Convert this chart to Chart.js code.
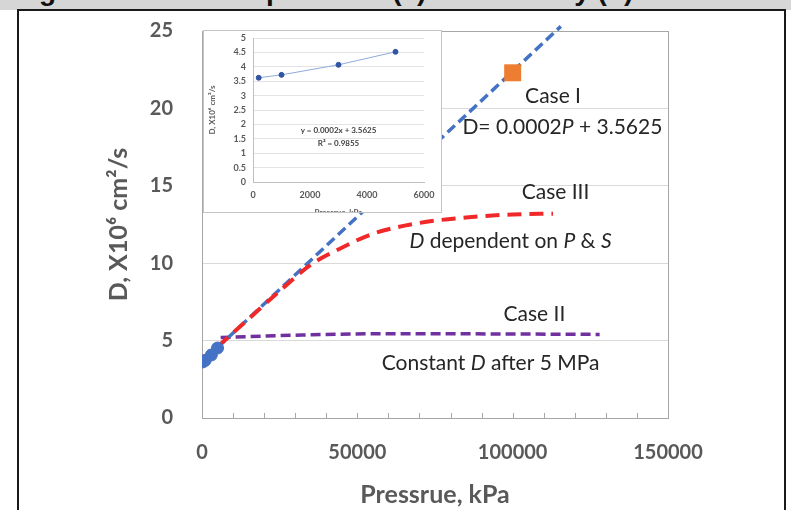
<!DOCTYPE html>
<html>
<head>
<meta charset="utf-8">
<script src="https://cdn.jsdelivr.net/npm/chart.js@4/dist/chart.umd.min.js"></script>
<style>
body { margin: 0; background: #fff; width: 791px; height: 510px; overflow: hidden; position: relative; }
#hdr { position: absolute; left: 0; top: 0; width: 791px; height: 10px; background: #d6d6d6; overflow: hidden; }
#hdr span { position: absolute; left: 14px; top: -23px; font: bold 28px "Liberation Sans"; line-height: 28px; white-space: nowrap; color: #111; }
#frame { position: absolute; left: 17px; top: 9px; width: 769px; height: 520px; border: 2px solid #1a1a1a; border-bottom: none; box-sizing: border-box; }
#main { position: absolute; left: 0; top: 0; }
#inset { position: absolute; left: 203px; top: 30px; width: 239px; height: 183px; border: 1px solid #c4c4c4; background: #fff; overflow: hidden; box-sizing: border-box; }
#inset canvas { position: absolute; left: 0; top: 0; }
</style>
</head>
<body>
<div id="hdr"><span>Figure 4: D versus pressure (a) and density (b)</span></div>
<canvas id="main" width="791" height="510"></canvas>
<div id="inset"><canvas id="small" width="237" height="192"></canvas></div>
<div id="frame"></div>
<script>
// measured points (kPa, D x10^6 cm2/s)
const measuredP = [200, 1000, 3000, 5000];
const measuredD = [3.62, 3.72, 4.07, 4.52];

// Case I - linear extrapolation
const caseIP = [5000, 115500];
const caseID = [4.55, 25.3];

// Case II - constant after 5 MPa
const caseIIP = [6000, 30000, 60000, 128000];
const caseIID = [5.2, 5.35, 5.45, 5.4];

// Case III - depends on P & S
const caseIIIP = [5000, 15000, 25000, 35000, 45000, 55000, 70000, 85000, 100000, 113000];
const caseIIID = [4.6, 6.4, 8.2, 9.9, 11.0, 11.9, 12.6, 12.95, 13.15, 13.2];

// highlighted point
const markP = [100000];
const markD = [22.3];

const xTicks = [0, 50000, 100000, 150000];
const yTicks = [0, 5, 10, 15, 20, 25];
const insetXTicks = [0, 2000, 4000, 6000];
const insetYTicks = [0, 0.5, 1, 1.5, 2, 2.5, 3, 3.5, 4, 4.5, 5];

const pts = (xs, ys) => xs.map((x, i) => ({x: x, y: ys[i]}));
const grey = '#595959';

const notes = [
  {p: 113000, d: 20.8, parts: [['Case I']]},
  {p: 116000, d: 18.8, parts: [['D= 0.0002'], ['P', 1], [' + 3.5625']]},
  {p: 113800, d: 14.6, parts: [['Case III']]},
  {p: 99300, d: 11.4, parts: [['D', 1], [' dependent on '], ['P', 1], [' & '], ['S', 1]]},
  {p: 107000, d: 6.7, parts: [['Case II']]},
  {p: 92900, d: 3.56, parts: [['Constant '], ['D', 1], [' after 5 MPa']]}
];

function drawRich(ctx, parts, cx, cy) {
  const fontOf = it => (it ? 'italic ' : '') + '21px Lato';
  let total = 0;
  parts.forEach(p => { ctx.font = fontOf(p[1]); total += ctx.measureText(p[0]).width; });
  let x = cx - total / 2;
  ctx.textAlign = 'left';
  ctx.textBaseline = 'middle';
  ctx.fillStyle = '#262626';
  parts.forEach(p => {
    ctx.font = fontOf(p[1]);
    ctx.fillText(p[0], x, cy);
    x += ctx.measureText(p[0]).width;
  });
}

const decor = {
  id: 'decor',
  beforeDatasetsDraw(chart) {
    const {ctx, chartArea: a, scales: {x}} = chart;
    ctx.save();
    ctx.strokeStyle = '#a6a6a6';
    ctx.lineWidth = 1;
    ctx.strokeRect(Math.round(a.left) + 0.5, Math.round(a.top) + 0.5, Math.round(a.right - a.left), Math.round(a.bottom - a.top));
    ctx.beginPath();
    for (let v = 10000; v < x.max; v += 10000) {
      const px = Math.round(x.getPixelForValue(v)) + 0.5;
      ctx.moveTo(px, a.bottom);
      ctx.lineTo(px, a.bottom - 5);
    }
    ctx.stroke();
    ctx.restore();
  },
  afterDatasetsDraw(chart) {
    const {ctx, scales: {x, y}} = chart;
    ctx.save();
    notes.forEach(n => drawRich(ctx, n.parts, x.getPixelForValue(n.p), y.getPixelForValue(n.d)));
    ctx.restore();
  }
};

new Chart(document.getElementById('main'), {
  type: 'scatter',
  data: {
    datasets: [
      {data: pts(markP, markD), pointStyle: 'rect', pointRadius: 12, backgroundColor: '#ed7d31', borderColor: '#ed7d31', borderWidth: 0, order: 0},
      {data: pts(measuredP, measuredD), pointRadius: 6, backgroundColor: '#4472c4', borderColor: '#4472c4', order: 1},
      {data: pts(caseIIIP, caseIIID), showLine: true, pointRadius: 0, borderColor: '#f0282a', borderWidth: 4, borderDash: [14, 8], cubicInterpolationMode: 'monotone', order: 2},
      {data: pts(caseIP, caseID), showLine: true, pointRadius: 0, borderColor: '#4472c4', borderWidth: 3.5, borderDash: [10, 5], clip: 6, order: 3},
      {data: pts(caseIIP, caseIID), showLine: true, pointRadius: 0, borderColor: '#7030a0', borderWidth: 3.5, borderDash: [10, 5], cubicInterpolationMode: 'monotone', order: 4}
    ]
  },
  options: {
    responsive: false,
    animation: false,
    layout: {padding: {left: 104, right: 123, top: 31, bottom: 0}},
    plugins: {legend: {display: false}, tooltip: {enabled: false}},
    scales: {
      x: {
        min: 0, max: 150000,
        afterBuildTicks: s => { s.ticks = xTicks.map(v => ({value: v})); },
        afterFit: s => { s.height = 92; },
        grid: {display: false, drawTicks: false},
        border: {display: false},
        ticks: {padding: 23, color: grey, font: {family: 'Lato', size: 20, weight: 'bold'}, callback: v => String(v), maxRotation: 0, autoSkip: false},
        title: {display: true, text: 'Pressrue, kPa', color: grey, padding: 0, font: {family: 'Lato', size: 25, weight: 'bold'}}
      },
      y: {
        min: 0, max: 25,
        afterBuildTicks: s => { s.ticks = yTicks.map(v => ({value: v})); },
        afterFit: s => { s.width = 98; },
        // tick length used as the gap between labels and plot, ticks themselves hidden
        grid: {drawTicks: true, tickLength: 29, tickColor: 'rgba(0,0,0,0)', color: c => (c.tick.value === 0 || c.tick.value === 25) ? 'rgba(0,0,0,0)' : '#d9d9d9'},
        border: {display: false},
        ticks: {padding: 0, color: grey, font: {family: 'Lato', size: 20, weight: 'bold'}, autoSkip: false},
        title: {display: true, text: 'D, X10⁶ cm²/s', color: grey, padding: 0, font: {family: 'Lato', size: 25, weight: 'bold'}}
      }
    }
  },
  plugins: [decor]
});

// inset chart: measured data with linear trend
new Chart(document.getElementById('small'), {
  type: 'scatter',
  data: {
    datasets: [
      {data: pts(measuredP, measuredD), showLine: true, pointRadius: 2.5, backgroundColor: '#2f55a4', borderColor: '#8faadc', borderWidth: 1, pointBorderColor: '#2f55a4'}
    ]
  },
  options: {
    responsive: false,
    animation: false,
    layout: {padding: {left: 0, right: 17, top: 7, bottom: 0}},
    plugins: {legend: {display: false}, tooltip: {enabled: false}},
    scales: {
      x: {
        min: 0, max: 6000,
        afterBuildTicks: s => { s.ticks = insetXTicks.map(v => ({value: v})); },
        afterFit: s => { s.height = 41; },
        grid: {display: false, drawTicks: true, tickLength: 8, tickColor: 'rgba(0,0,0,0)'},
        border: {color: '#bfbfbf'},
        ticks: {padding: 0, color: grey, font: {family: 'Lato', size: 9, weight: 'bold'}, callback: v => String(v), maxRotation: 0, autoSkip: false},
        title: {display: true, text: 'Pressrue, kPa', color: grey, padding: {top: 0, bottom: 6}, font: {family: 'Lato', size: 8, weight: 'bold'}}
      },
      y: {
        min: 0, max: 5,
        afterBuildTicks: s => { s.ticks = insetYTicks.map(v => ({value: v})); },
        afterFit: s => { s.width = 49; },
        grid: {drawTicks: true, tickLength: 7, tickColor: 'rgba(0,0,0,0)', color: '#e3e3e3'},
        border: {color: '#bfbfbf'},
        ticks: {padding: 0, color: grey, font: {family: 'Lato', size: 9, weight: 'bold'}, callback: v => String(v), autoSkip: false},
        title: {display: true, text: 'D, X10⁶ cm²/s', color: grey, padding: {top: 4, bottom: 0}, font: {family: 'Lato', size: 8, weight: 'bold'}}
      }
    }
  },
  plugins: [{
    id: 'eq',
    afterDatasetsDraw(chart) {
      const {ctx, scales: {x, y}} = chart;
      ctx.save();
      ctx.fillStyle = '#404040';
      ctx.font = 'bold 8px Lato';
      ctx.textAlign = 'center';
      ctx.textBaseline = 'middle';
      ctx.fillText('y = 0.0002x + 3.5625', x.getPixelForValue(3000), y.getPixelForValue(1.8));
      ctx.fillText('R² = 0.9855', x.getPixelForValue(3000), y.getPixelForValue(1.35));
      ctx.restore();
    }
  }]
});
</script>
</body>
</html>
